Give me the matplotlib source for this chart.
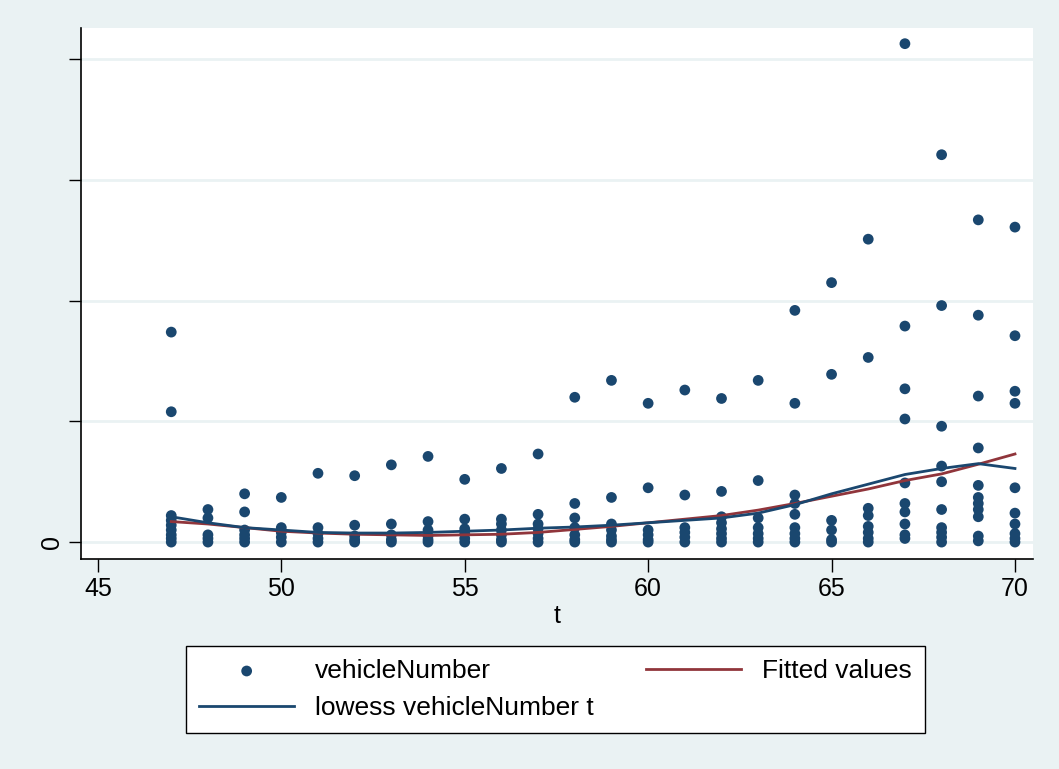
import matplotlib
matplotlib.use("Agg")
import matplotlib.pyplot as plt

plt.rcParams["font.family"] = ["Liberation Sans", "DejaVu Sans"]

# scatter values read per t column
t_47 = [1.74, 1.08, 0.22, 0.18, 0.14, 0.10, 0.06, 0.03, 0.0]
t_48 = [0.27, 0.20, 0.06, 0.03, 0.0]
t_49 = [0.40, 0.25, 0.10, 0.06, 0.03, 0.0]
t_50 = [0.37, 0.12, 0.08, 0.04, 0.0]
t_51 = [0.57, 0.12, 0.07, 0.03, 0.0]
t_52 = [0.55, 0.14, 0.05, 0.02, 0.0]
t_53 = [0.64, 0.15, 0.06, 0.02, 0.0]
t_54 = [0.71, 0.17, 0.10, 0.05, 0.02, 0.0]
t_55 = [0.52, 0.19, 0.11, 0.07, 0.03, 0.0]
t_56 = [0.61, 0.19, 0.15, 0.10, 0.06, 0.02, 0.0]
t_57 = [0.73, 0.23, 0.15, 0.11, 0.07, 0.03, 0.0]
t_58 = [1.20, 0.32, 0.20, 0.12, 0.06, 0.02, 0.0]
t_59 = [1.34, 0.37, 0.15, 0.10, 0.05, 0.02, 0.0]
t_60 = [1.15, 0.45, 0.10, 0.06, 0.02, 0.0]
t_61 = [1.26, 0.39, 0.12, 0.08, 0.04, 0.0]
t_62 = [1.19, 0.42, 0.21, 0.16, 0.11, 0.07, 0.03, 0.0]
t_63 = [1.34, 0.51, 0.20, 0.12, 0.07, 0.03, 0.0]
t_64 = [1.92, 1.15, 0.39, 0.32, 0.23, 0.12, 0.07, 0.03, 0.0]
t_65 = [2.15, 1.39, 0.18, 0.10, 0.02, 0.0]
t_66 = [2.51, 1.53, 0.28, 0.22, 0.13, 0.08, 0.03, 0.0]
t_67 = [4.13, 1.79, 1.27, 1.02, 0.49, 0.32, 0.25, 0.15, 0.06, 0.03]
t_68 = [3.21, 1.96, 0.96, 0.63, 0.50, 0.27, 0.12, 0.08, 0.04, 0.0]
t_69 = [2.67, 1.88, 1.21, 0.78, 0.47, 0.37, 0.32, 0.27, 0.21, 0.05, 0.01]
t_70 = [2.61, 1.71, 1.25, 1.15, 0.45, 0.24, 0.15, 0.07, 0.03, 0.0]

columns = {47: t_47, 48: t_48, 49: t_49, 50: t_50, 51: t_51, 52: t_52,
           53: t_53, 54: t_54, 55: t_55, 56: t_56, 57: t_57, 58: t_58,
           59: t_59, 60: t_60, 61: t_61, 62: t_62, 63: t_63, 64: t_64,
           65: t_65, 66: t_66, 67: t_67, 68: t_68, 69: t_69, 70: t_70}

line_t = list(range(47, 71))
fitted = [0.17, 0.15, 0.12, 0.09, 0.075, 0.065, 0.06, 0.055, 0.06, 0.065,
          0.08, 0.105, 0.13, 0.16, 0.19, 0.22, 0.265, 0.32, 0.38, 0.44,
          0.51, 0.565, 0.645, 0.73]
lowess = [0.21, 0.16, 0.12, 0.10, 0.08, 0.075, 0.075, 0.08, 0.09, 0.10,
          0.115, 0.125, 0.14, 0.16, 0.18, 0.20, 0.24, 0.31, 0.40, 0.48,
          0.56, 0.61, 0.65, 0.61]

x_ticks = [45, 50, 55, 60, 65, 70]
y_ticks = [0, 1, 2, 3, 4]
y_labels = ["0", "", "", "", ""]

navy = "#1A476F"
maroon = "#90353B"
bg = "#EAF2F3"

xs, ys = [], []
for t, vals in columns.items():
    xs += [t] * len(vals)
    ys += vals

fig = plt.figure(figsize=(10.59, 7.69), dpi=100, facecolor=bg)
ax = fig.add_axes([0.0765, 0.2731, 0.8989, 0.6905])
ax.set_facecolor("white")

for y in y_ticks:
    ax.axhline(y, color=bg, lw=2, zorder=0)

sc = ax.scatter(xs, ys, s=60, color=navy, edgecolors="none", zorder=3,
                label="vehicleNumber")
fit_line, = ax.plot(line_t, fitted, color=maroon, lw=2, zorder=4,
                    label="Fitted values")
low_line, = ax.plot(line_t, lowess, color=navy, lw=2, zorder=5,
                    label="lowess vehicleNumber t")

ax.set_xlim(44.54, 70.49)
ax.set_ylim(-0.14, 4.26)
ax.set_xticks(x_ticks)
ax.set_yticks(y_ticks)
ax.set_yticklabels(y_labels, rotation=90, va="center")
ax.tick_params(axis="both", direction="out", length=9, width=1,
               labelsize=18, colors="black")
ax.tick_params(axis="x", pad=4)
ax.set_xlabel("t", fontsize=18, labelpad=2)

ax.spines["top"].set_visible(False)
ax.spines["right"].set_visible(False)
for s in ("left", "bottom"):
    ax.spines[s].set_linewidth(1.2)

leg = fig.legend([sc, low_line, fit_line],
                 ["vehicleNumber", "lowess vehicleNumber t", "Fitted values"],
                 ncol=2, loc="center", mode="expand",
                 bbox_to_anchor=(0.1756, 0.0455, 0.6978, 0.1157),
                 fontsize=19, frameon=True, fancybox=False, framealpha=1,
                 facecolor="white", edgecolor="black", handlelength=3.6,
                 labelspacing=0.5, borderpad=0.5, borderaxespad=0)
leg.get_frame().set_linewidth(1)

fig.savefig("out.png", dpi=100, facecolor=bg)
